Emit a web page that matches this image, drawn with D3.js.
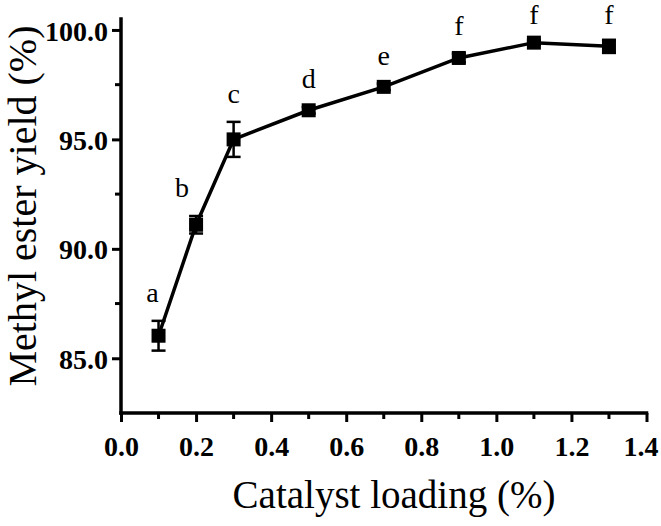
<!DOCTYPE html>
<html><head><meta charset="utf-8">
<script src="https://cdn.jsdelivr.net/npm/d3@7"></script>
<style>body{margin:0;background:#fff}svg{display:block}</style>
</head><body>
<script>
const loading = [0.1, 0.2, 0.3, 0.5, 0.7, 0.9, 1.1, 1.3];
const yieldVals = [86.03, 91.1, 95.0, 96.33, 97.4, 98.72, 99.42, 99.25];
const yieldErr = [0.68, 0.4, 0.8, 0.15, 0.15, 0.2, 0.1, 0.3];
const letters = ["a", "b", "c", "d", "e", "f", "f", "f"];
const xTicks = [0.0, 0.2, 0.4, 0.6, 0.8, 1.0, 1.2, 1.4];
const yTicks = [85.0, 90.0, 95.0, 100.0];

const W = 661, H = 526;
const svg = d3.select("body").append("svg").attr("width", W).attr("height", H);
const x = d3.scaleLinear().domain([0, 1.4]).range([121, 646.5]);
const y = d3.scaleLinear().domain([82.5, 100.5]).range([413, 19]);
const serif = "'Liberation Serif','Times New Roman',serif";

// axes
const xAxis = d3.axisBottom(x).tickValues(xTicks).tickFormat(d3.format(".1f")).tickSize(9).tickPadding(14);
const gx = svg.append("g").attr("transform", "translate(0,413)").call(xAxis);
const yAxis = d3.axisLeft(y).tickValues(yTicks).tickFormat(d3.format(".1f")).tickSize(9).tickPadding(4);
const gy = svg.append("g").attr("transform", "translate(121,0)").call(yAxis);
[gx, gy].forEach(g => {
  g.attr("font-family", serif);
  g.select(".domain").remove();
  g.selectAll("line").attr("stroke", "#000").attr("stroke-width", 3);
  g.selectAll("text").attr("font-family", serif).attr("font-weight", "bold")
    .attr("font-size", 28).attr("fill", "#000");
});
gy.selectAll("text").attr("dy", "0.36em");
gx.selectAll("text").filter(d => d === 1.4).attr("dx", -6);
// minor ticks
const xMinor = d3.range(0.1, 1.4, 0.2);
svg.append("g").selectAll("line").data(xMinor).join("line")
  .attr("x1", d => x(d)).attr("x2", d => x(d)).attr("y1", 413).attr("y2", 419)
  .attr("stroke", "#000").attr("stroke-width", 3);
const yMinor = [87.5, 92.5, 97.5];
svg.append("g").selectAll("line").data(yMinor).join("line")
  .attr("y1", d => y(d)).attr("y2", d => y(d)).attr("x1", 121).attr("x2", 115)
  .attr("stroke", "#000").attr("stroke-width", 3);
// axis lines
svg.append("line").attr("x1", x(0)).attr("x2", x(1.4)).attr("y1", 413).attr("y2", 413)
  .attr("stroke", "#000").attr("stroke-width", 3.5).attr("stroke-linecap", "square");
svg.append("line").attr("x1", 121).attr("x2", 121).attr("y1", y(82.5)).attr("y2", y(100.5))
  .attr("stroke", "#000").attr("stroke-width", 3.5).attr("stroke-linecap", "square");

const data = loading.map((d, i) => ({x: d, y: yieldVals[i], e: yieldErr[i], l: letters[i]}));

// line
svg.append("path").datum(data)
  .attr("d", d3.line().x(d => x(d.x)).y(d => y(d.y)))
  .attr("fill", "none").attr("stroke", "#000").attr("stroke-width", 3.5);

// error bars
const eb = svg.append("g").attr("stroke", "#000").attr("stroke-width", 2.5);
data.forEach(d => {
  const cx = x(d.x), t = y(d.y + d.e), b = y(d.y - d.e);
  eb.append("line").attr("x1", cx).attr("x2", cx).attr("y1", t).attr("y2", b);
  eb.append("line").attr("x1", cx - 7).attr("x2", cx + 7).attr("y1", t).attr("y2", t);
  eb.append("line").attr("x1", cx - 7).attr("x2", cx + 7).attr("y1", b).attr("y2", b);
});

// markers
svg.append("g").selectAll("rect").data(data).join("rect")
  .attr("x", d => x(d.x) - 7).attr("y", d => y(d.y) - 7)
  .attr("width", 14).attr("height", 14).attr("fill", "#000");

// letters
const ldx = [-6, -14, 0, 0, 0, 0, 0, 0];
svg.append("g").selectAll("text").data(data).join("text")
  .attr("x", (d, i) => x(d.x) + ldx[i])
  .attr("y", d => Math.max(24, y(d.y + d.e) - 19))
  .attr("text-anchor", "middle").attr("font-family", serif).attr("font-size", 28)
  .attr("fill", "#000").text(d => d.l);

// titles
svg.append("text").attr("x", 394).attr("y", 508).attr("text-anchor", "middle")
  .attr("font-family", serif).attr("font-size", 39).attr("fill", "#000").text("Catalyst loading (%)");
svg.append("text").attr("transform", "translate(36,206) rotate(-90)").attr("text-anchor", "middle")
  .attr("font-family", serif).attr("font-size", 40).attr("fill", "#000").text("Methyl ester yield (%)");
</script>
</body></html>
